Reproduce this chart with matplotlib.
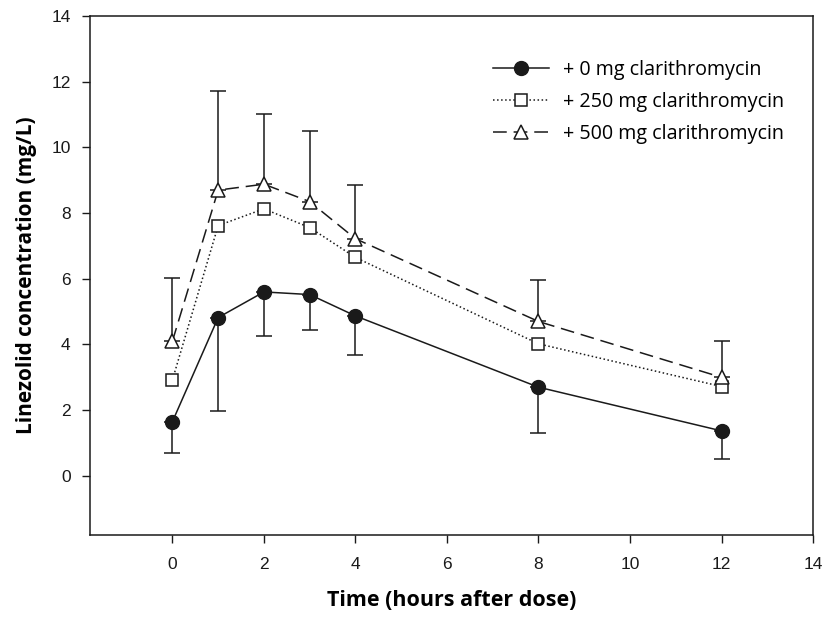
import numpy as np
import matplotlib
matplotlib.use("Agg")
import matplotlib.pyplot as plt

# Data
time_h = [0, 1, 2, 3, 4, 8, 12]

conc_0mg = [1.65, 4.82, 5.60, 5.52, 4.87, 2.70, 1.37]
low_0mg = [0.70, 1.97, 4.25, 4.43, 3.67, 1.30, 0.50]

conc_250mg = [2.92, 7.62, 8.13, 7.56, 6.65, 4.02, 2.72]

conc_500mg = [4.10, 8.70, 8.88, 8.35, 7.22, 4.70, 3.00]
high_500mg = [6.03, 11.72, 11.03, 10.50, 8.85, 5.97, 4.12]

labels = ["+ 0 mg clarithromycin", "+ 250 mg clarithromycin", "+ 500 mg clarithromycin"]

x_ticks = [0, 2, 4, 6, 8, 10, 12, 14]
y_ticks = [0, 2, 4, 6, 8, 10, 12, 14]

fig = plt.figure(figsize=(8.23, 6.21), dpi=100)
ax = fig.add_axes([0.1094, 0.1385, 0.8785, 0.8357])

c = "#1a1a1a"
err_0 = [np.array(conc_0mg) - np.array(low_0mg), np.zeros(len(conc_0mg))]
err_500 = [np.zeros(len(conc_500mg)), np.array(high_500mg) - np.array(conc_500mg)]

ax.errorbar(time_h, conc_500mg, yerr=err_500, fmt="none", ecolor=c, elinewidth=1.1,
            capsize=5.8, capthick=1.1, zorder=1)
ax.errorbar(time_h, conc_0mg, yerr=err_0, fmt="none", ecolor=c, elinewidth=1.1,
            capsize=5.8, capthick=1.1, zorder=1)

ax.plot(time_h, conc_0mg, "-", color=c, lw=1.1, marker="o", ms=10,
        mfc=c, mec=c, label=labels[0], zorder=3)
ax.plot(time_h, conc_250mg, ":", color=c, lw=1.1, marker="s", ms=8.5,
        mfc="white", mec=c, mew=1.1, label=labels[1], zorder=3)
ax.plot(time_h, conc_500mg, linestyle=(0, (9, 4.5)), color=c, lw=1.1, marker="^", ms=10,
        mfc="white", mec=c, mew=1.1, label=labels[2], zorder=3)

ax.set_xlim(-1.8, 14)
ax.set_ylim(-1.8, 14)
ax.set_xticks(x_ticks)
ax.set_yticks(y_ticks)
ax.tick_params(axis="both", direction="out", length=6, width=1, labelsize=12.5,
               colors=c)
ax.tick_params(axis="y", pad=8)
ax.tick_params(axis="x", pad=10)
for lab in ax.get_xticklabels() + ax.get_yticklabels():
    lab.set_fontfamily("Liberation Sans")
for sp in ax.spines.values():
    sp.set_linewidth(1.1)
    sp.set_color(c)

ax.set_xlabel("Time (hours after dose)", fontsize=15.5, fontweight="bold",
              fontfamily="Open Sans", labelpad=13)
ax.set_ylabel("Linezolid concentration (mg/L)", fontsize=15, fontweight="bold",
              fontfamily="Open Sans", labelpad=10)

leg = ax.legend(loc="upper right", bbox_to_anchor=(0.985, 0.95), frameon=False,
                prop={"family": "Open Sans", "size": 14.2}, handlelength=2.8,
                labelspacing=0.62, handletextpad=0.75)

fig.savefig("out.png", dpi=100)
